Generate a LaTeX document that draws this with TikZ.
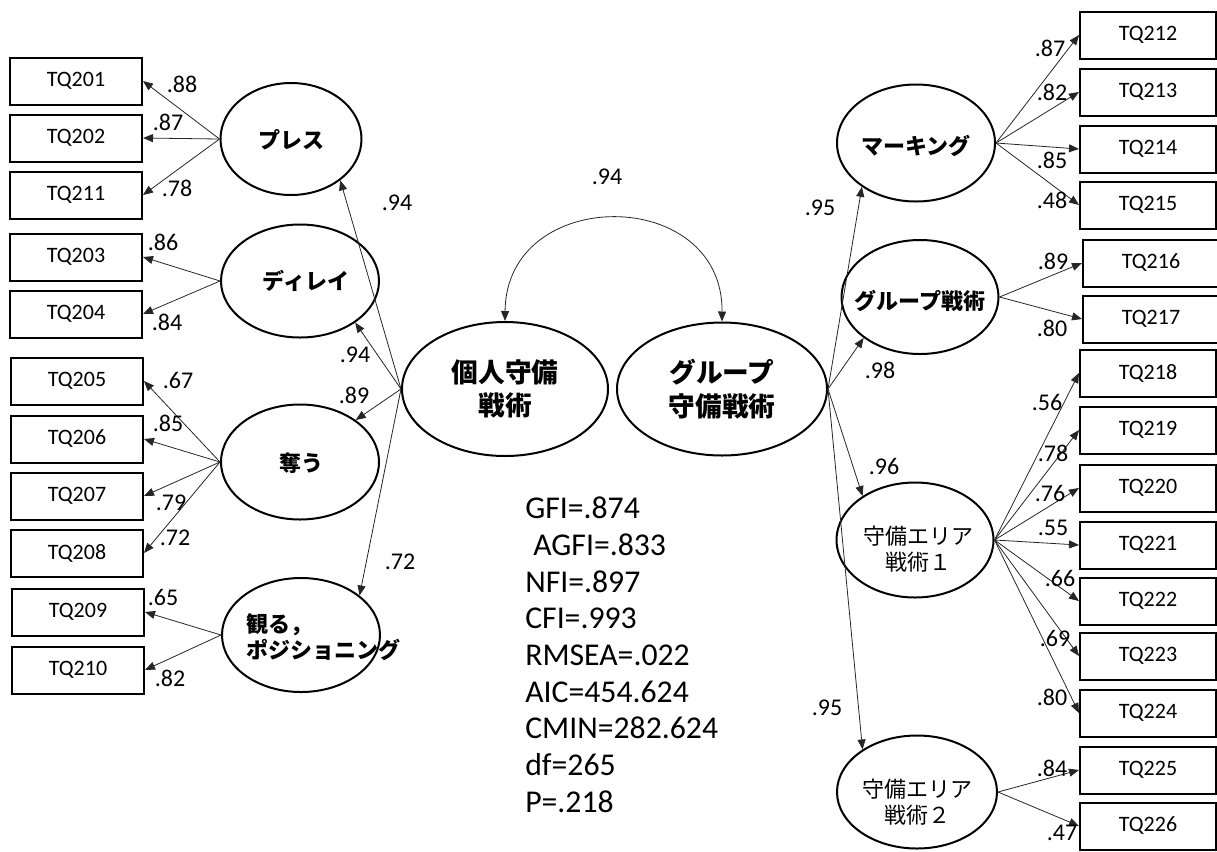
\documentclass[tikz,border=0pt]{standalone}
\usepackage{fontspec}
\setmainfont{Carlito}
\newfontfamily\jp{Noto Sans CJK JP}
\usetikzlibrary{arrows.meta,shapes.geometric}
\begin{document}
\begin{tikzpicture}[x=0.75pt,y=-0.75pt,
  box/.style={draw, line width=1.5pt, minimum width=99pt, minimum height=35.25pt, inner sep=0pt, font=\fontsize{16.5}{18}\selectfont},
  rbox/.style={box, minimum width=102pt},
  lat/.style 2 args={draw, ellipse, line width=1.5pt, inner sep=0pt, minimum width=#1*0.75pt, minimum height=#2*0.75pt},
  jtxt/.style={font=\jp\bfseries\fontsize{16.5}{20}\selectfont, align=center, inner sep=0pt},
  jreg/.style={font=\jp\fontsize{16.5}{20}\selectfont, align=center, inner sep=0pt},
  jbig/.style={font=\jp\bfseries\fontsize{20}{25}\selectfont, align=center, inner sep=0pt},
  lbl/.style={font=\fontsize{18}{20}\selectfont, inner sep=0pt},
  arr/.style={-{Triangle[length=7.5pt,width=6pt]}, line width=0.6pt, draw=black!85},
  darr/.style={{Triangle[length=7.5pt,width=6pt]}-{Triangle[length=7.5pt,width=6pt]}, line width=0.6pt, draw=black!85},
]
\useasboundingbox (0,0) rectangle (1217,851);

% left boxes
\node[box] (b201) at (76,81) {TQ201};
\node[box] (b202) at (76,138) {TQ202};
\node[box] (b211) at (76,195) {TQ211};
\node[box] (b203) at (76,257) {TQ203};
\node[box] (b204) at (76,314) {TQ204};
\node[box] (b205) at (77,381) {TQ205};
\node[box] (b206) at (77,439) {TQ206};
\node[box] (b207) at (77,496) {TQ207};
\node[box] (b208) at (77,553) {TQ208};
\node[box] (b209) at (78,612) {TQ209};
\node[box] (b210) at (78,670) {TQ210};

% right boxes
\node[rbox] (b212) at (1148,35) {TQ212};
\node[rbox] (b213) at (1148,92) {TQ213};
\node[rbox] (b214) at (1148,149) {TQ214};
\node[rbox] (b215) at (1148,205) {TQ215};
\node[rbox] (b216) at (1151,263) {TQ216};
\node[rbox] (b217) at (1151,319) {TQ217};
\node[rbox] (b218) at (1148,373) {TQ218};
\node[rbox] (b219) at (1148,430) {TQ219};
\node[rbox] (b220) at (1148,488) {TQ220};
\node[rbox] (b221) at (1148,545) {TQ221};
\node[rbox] (b222) at (1148,601) {TQ222};
\node[rbox] (b223) at (1148,656) {TQ223};
\node[rbox] (b224) at (1148,713) {TQ224};
\node[rbox] (b225) at (1148,770) {TQ225};
\node[rbox] (b226) at (1148,826) {TQ226};

% latent variables
\node[lat={141}{112}] (press) at (291,139) {};
\node[lat={158}{113}] (delay) at (300,281) {};
\node[lat={158}{115}] (ubau) at (300,462) {};
\node[lat={158}{114}] (miru) at (301,635) {};
\node[lat={206}{134}] (kojin) at (505,389) {};
\node[lat={210}{133}] (group) at (722,389) {};
\node[lat={158}{117}] (mark) at (916,143) {};
\node[lat={157}{114}] (gsen) at (920,297) {};
\node[lat={157}{115}] (area1) at (915,540) {};
\node[lat={160}{113}] (area2) at (917,792) {};

% latent texts
\node[jtxt] (tpress) at (291,140) {プレス};
\node[jtxt] (tdelay) at (306,281) {ディレイ};
\node[jtxt] (tubau) at (301,463) {奪う};
\node[jtxt, align=left, anchor=west] (tmiru) at (246,637) {観る，\\ポジショニング};
\node[jbig] (tkojin) at (505,389) {個人守備\\戦術};
\node[jbig] (tgroup) at (722,389) {グループ\\守備戦術};
\node[jtxt] (tmark) at (916,146) {マーキング};
\node[jtxt] (tgsen) at (920,301) {グループ戦術};
\node[jreg] (tarea1) at (918,549) {守備エリア\\戦術１};
\node[jreg] (tarea2) at (917,802) {守備エリア\\戦術２};

% structural paths
\draw[arr] (kojin.west) -- (press.-40);
\draw[arr] (kojin.west) -- (delay.-37);
\draw[arr] (kojin.west) -- (ubau.37);
\draw[arr] (kojin.west) -- (miru.34);
\draw[arr] (group.east) -- (mark.219);
\draw[arr] (group.east) -- (gsen.216);
\draw[arr] (group.east) -- (area1.140);
\draw[arr] (group.east) -- (area2.142);
\draw[darr] (kojin.north) .. controls (506,185) and (723,185) .. (group.north);

% measurement paths left
\draw[arr] (press.west) -- (b201.east);
\draw[arr] (press.west) -- (b202.east);
\draw[arr] (press.west) -- (b211.east);
\draw[arr] (delay.west) -- (b203.east);
\draw[arr] (delay.west) -- (b204.east);
\draw[arr] (ubau.west) -- (b205.east);
\draw[arr] (ubau.west) -- (b206.east);
\draw[arr] (ubau.west) -- (b207.east);
\draw[arr] (ubau.west) -- (b208.east);
\draw[arr] (miru.west) -- (b209.east);
\draw[arr] (miru.west) -- (b210.east);

% measurement paths right
\draw[arr] (mark.east) -- (b212.west);
\draw[arr] (mark.east) -- (b213.west);
\draw[arr] (mark.east) -- (b214.west);
\draw[arr] (mark.east) -- (b215.west);
\draw[arr] (gsen.east) -- (b216.west);
\draw[arr] (gsen.east) -- (b217.west);
\draw[arr] (area1.east) -- (b218.west);
\draw[arr] (area1.east) -- (b219.west);
\draw[arr] (area1.east) -- (b220.west);
\draw[arr] (area1.east) -- (b221.west);
\draw[arr] (area1.east) -- (b222.west);
\draw[arr] (area1.east) -- (b223.west);
\draw[arr] (area1.east) -- (b224.west);
\draw[arr] (area2.east) -- (b225.west);
\draw[arr] (area2.east) -- (b226.west);

% labels left
\node[lbl] (l201) at (182,84) {.88};
\node[lbl] (l202) at (168,122) {.87};
\node[lbl] (l211) at (177,188) {.78};
\node[lbl] (l203) at (163,242) {.86};
\node[lbl] (l204) at (167,322) {.84};
\node[lbl] (l205) at (178,380) {.67};
\node[lbl] (l206) at (168,423) {.85};
\node[lbl] (l207) at (171,503) {.79};
\node[lbl] (l208) at (175,538) {.72};
\node[lbl] (l209) at (163,597) {.65};
\node[lbl] (l210) at (170,678) {.82};
\node[lbl] (lpress) at (397,203) {.94};
\node[lbl] (ldelay) at (355,355) {.94};
\node[lbl] (lubau) at (354,395) {.89};
\node[lbl] (lmiru) at (400,562) {.72};
\node[lbl] (lcor) at (607,177) {.94};

% labels right
\node[lbl] (lmark) at (820,208) {.95};
\node[lbl] (lgsen) at (880,370) {.98};
\node[lbl] (larea1) at (884,466) {.96};
\node[lbl] (larea2) at (827,708) {.95};
\node[lbl] (l212) at (1050,48) {.87};
\node[lbl] (l213) at (1052,92) {.82};
\node[lbl] (l214) at (1052,160) {.85};
\node[lbl] (l215) at (1052,200) {.48};
\node[lbl] (l216) at (1053,261) {.89};
\node[lbl] (l217) at (1052,328) {.80};
\node[lbl] (l218) at (1047,402) {.56};
\node[lbl] (l219) at (1053,453) {.78};
\node[lbl] (l220) at (1050,493) {.76};
\node[lbl] (l221) at (1053,528) {.55};
\node[lbl] (l222) at (1060,578) {.66};
\node[lbl] (l223) at (1055,638) {.69};
\node[lbl] (l224) at (1052,697) {.80};
\node[lbl] (l225) at (1052,768) {.84};
\node[lbl] (l226) at (1062,833) {.47};

% fit statistics
\node[font=\fontsize{23.8}{27.5}\selectfont, align=left, anchor=north west, inner sep=0pt] (fit) at (525,497)
 {GFI=.874\\\hspace*{6pt}AGFI=.833\\NFI=.897\\CFI=.993\\RMSEA=.022\\AIC=454.624\\CMIN=282.624\\df=265\\P=.218};
\end{tikzpicture}
\end{document}
